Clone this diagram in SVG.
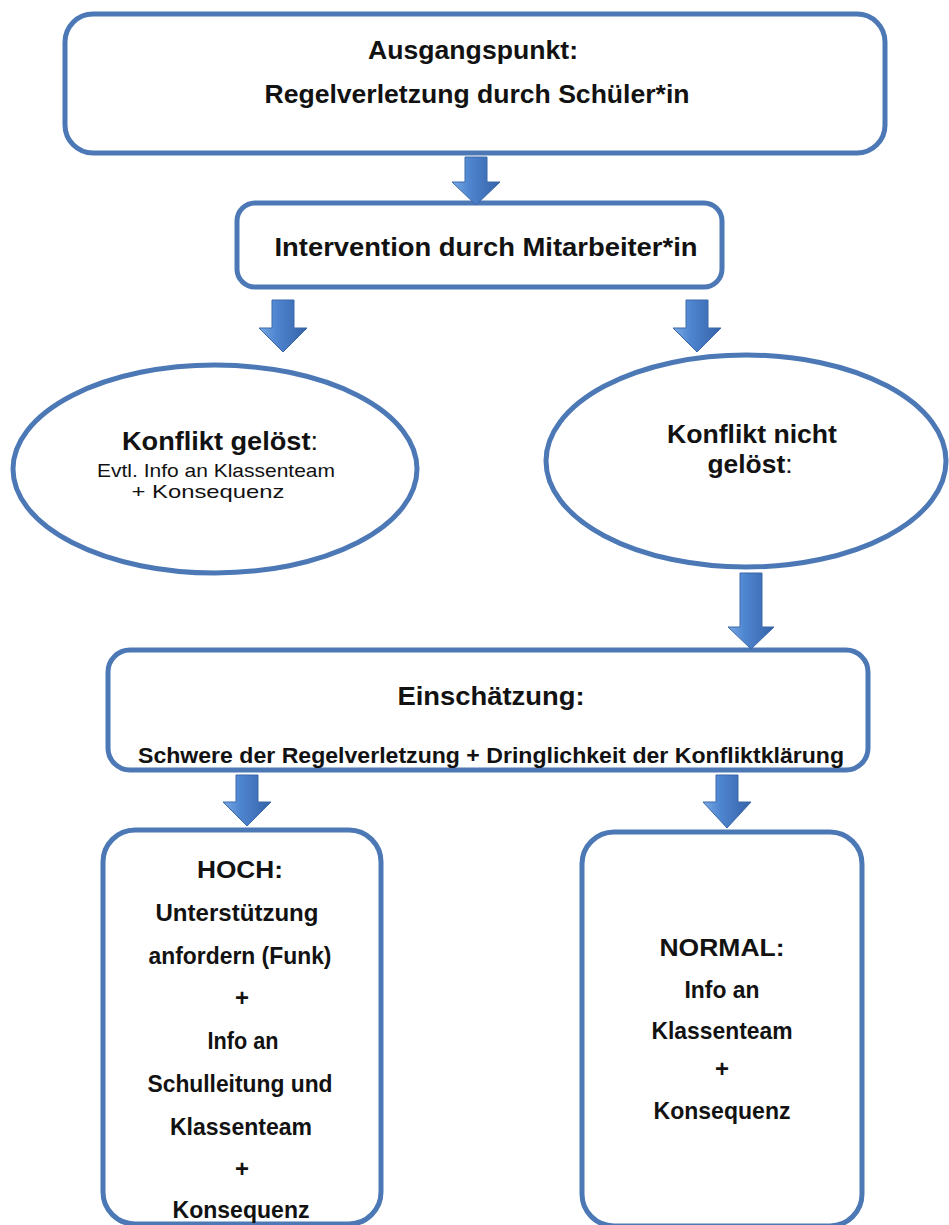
<svg xmlns="http://www.w3.org/2000/svg" width="949" height="1225" viewBox="0 0 949 1225">
  <defs>
    <linearGradient id="arrowGrad" x1="0" y1="0" x2="1" y2="0">
      <stop offset="0" stop-color="#7aaae6"/>
      <stop offset="0.35" stop-color="#4f86d0"/>
      <stop offset="1" stop-color="#3562a8"/>
    </linearGradient>
    <style>
      .box { fill: #ffffff; stroke: #4c79b6; stroke-width: 5; }
      .arrow { fill: url(#arrowGrad); stroke: #3a68aa; stroke-width: 1; }
      text { font-family: "Liberation Sans", Arial, sans-serif; fill: #121212; text-anchor: middle; }
      .b { font-weight: bold; }
      .t25 { font-size: 25px; }
      .t24 { font-size: 24px; }
      .t22 { font-size: 22px; }
      .t19 { font-size: 19px; font-weight: normal; }
      .colon { font-weight: normal; }
    </style>
  </defs>
  <rect width="949" height="1225" fill="#ffffff"/>

  <g id="node-ausgangspunkt">
    <rect class="box" x="65" y="14" width="820" height="139" rx="28" ry="28"/>
    <text class="b t25" x="473" y="59" textLength="210" lengthAdjust="spacingAndGlyphs">Ausgangspunkt:</text>
    <text class="b t25" x="477" y="103" textLength="425" lengthAdjust="spacingAndGlyphs">Regelverletzung durch Schüler*in</text>
  </g>

  <g id="node-intervention">
    <rect class="box" x="237" y="203" width="485" height="84" rx="18" ry="18"/>
    <text class="b t25" x="486" y="256" textLength="423" lengthAdjust="spacingAndGlyphs">Intervention durch Mitarbeiter*in</text>
  </g>

  <g id="node-geloest">
    <ellipse class="box" cx="215" cy="469" rx="202" ry="104"/>
    <text class="b t25" x="220" y="450" textLength="196" lengthAdjust="spacingAndGlyphs">Konflikt gelöst<tspan class="colon">:</tspan></text>
    <text class="t19" x="216" y="477" textLength="238" lengthAdjust="spacingAndGlyphs">Evtl. Info an Klassenteam</text>
    <text class="t19" x="208" y="498" textLength="153" lengthAdjust="spacingAndGlyphs">+ Konsequenz</text>
  </g>

  <g id="node-nicht-geloest">
    <ellipse class="box" cx="746" cy="461" rx="200" ry="106"/>
    <text class="b t25" x="752" y="443" textLength="170" lengthAdjust="spacingAndGlyphs">Konflikt nicht</text>
    <text class="b t25" x="750" y="473" textLength="85" lengthAdjust="spacingAndGlyphs">gelöst<tspan class="colon">:</tspan></text>
  </g>

  <g id="node-einschaetzung">
    <rect class="box" x="108" y="650" width="760" height="120" rx="22" ry="22"/>
    <text class="b t25" x="491" y="705" textLength="187" lengthAdjust="spacingAndGlyphs">Einschätzung:</text>
    <text class="b t22" x="491" y="763" textLength="706" lengthAdjust="spacingAndGlyphs">Schwere der Regelverletzung + Dringlichkeit der Konfliktklärung</text>
  </g>

  <g id="node-hoch">
    <rect class="box" x="103" y="830" width="278" height="394" rx="32" ry="32"/>
    <text class="b t24" x="240" y="878" textLength="86" lengthAdjust="spacingAndGlyphs">HOCH:</text>
    <text class="b t24" x="237" y="921" textLength="163" lengthAdjust="spacingAndGlyphs">Unterstützung</text>
    <text class="b t24" x="240" y="964" textLength="183" lengthAdjust="spacingAndGlyphs">anfordern (Funk)</text>
    <text class="b t24" x="242" y="1006">+</text>
    <text class="b t24" x="243" y="1049" textLength="71" lengthAdjust="spacingAndGlyphs">Info an</text>
    <text class="b t24" x="240" y="1092" textLength="185" lengthAdjust="spacingAndGlyphs">Schulleitung und</text>
    <text class="b t24" x="241" y="1135" textLength="142" lengthAdjust="spacingAndGlyphs">Klassenteam</text>
    <text class="b t24" x="242" y="1177">+</text>
    <text class="b t24" x="241" y="1218" textLength="137" lengthAdjust="spacingAndGlyphs">Konsequenz</text>
  </g>

  <g id="node-normal">
    <rect class="box" x="582" y="832" width="280" height="394" rx="32" ry="32"/>
    <text class="b t24" x="722" y="956" textLength="125" lengthAdjust="spacingAndGlyphs">NORMAL:</text>
    <text class="b t24" x="722" y="998" textLength="75" lengthAdjust="spacingAndGlyphs">Info an</text>
    <text class="b t24" x="722" y="1039" textLength="141" lengthAdjust="spacingAndGlyphs">Klassenteam</text>
    <text class="b t24" x="722" y="1077">+</text>
    <text class="b t24" x="722" y="1119" textLength="137" lengthAdjust="spacingAndGlyphs">Konsequenz</text>
  </g>

  <g id="connectors">
    <path class="arrow" d="M465 157 H487 V182 H500 L476 205 L452 182 H465 Z"/>
    <path class="arrow" d="M272 300 H294 V328 H307 L283 352 L259 328 H272 Z"/>
    <path class="arrow" d="M686 300 H708 V328 H721 L697 352 L673 328 H686 Z"/>
    <path class="arrow" d="M740 573 H762 V627 H774 L751 649 L728 627 H740 Z"/>
    <path class="arrow" d="M236 775 H258 V802 H271 L247 826 L223 802 H236 Z"/>
    <path class="arrow" d="M716 775 H738 V802 H751 L727 828 L703 802 H716 Z"/>
  </g>
</svg>
